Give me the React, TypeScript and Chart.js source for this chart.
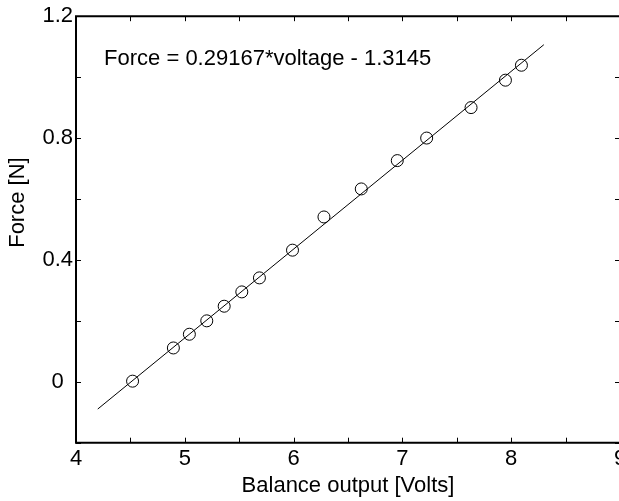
import React, { useEffect, useRef } from "react";
import { Chart, registerables } from "chart.js";

Chart.register(...registerables);

// ---- data ----
const voltage = [4.52, 4.895, 5.042, 5.202, 5.362, 5.524, 5.686, 5.99, 6.279, 6.622, 6.953, 7.223, 7.631, 7.947, 8.094];
const force = [0.002, 0.111, 0.156, 0.2, 0.248, 0.295, 0.341, 0.432, 0.541, 0.633, 0.726, 0.8, 0.9, 0.99, 1.039];
const fitVoltage = [4.2, 8.3];
const fitForce = [-0.0895, 1.1064];

const xMin = 4;
const xMax = 9;
const xStep = 0.5;
const yMin = -0.2;
const yMax = 1.2;
const yStep = 0.2;
const xTickLabels = [4, 5, 6, 7, 8, 9];
const yTickLabels = [0, 0.4, 0.8, 1.2];

const equationText = "Force = 0.29167*voltage - 1.3145";
const equationAnchor = { x: 4.258, y: 1.039 };
const xTitle = "Balance output [Volts]";
const yTitle = "Force [N]";

const FONT = '"Liberation Sans", Arial, Helvetica, sans-serif';

const near = (a: number, b: number) => Math.abs(a - b) < 1e-6;

const framePlugin = {
  id: "frame",
  afterDraw(chart: any) {
    const ctx = chart.ctx;
    const { left, right, top, bottom } = chart.chartArea;
    const xs = chart.scales.x;
    const ys = chart.scales.y;
    ctx.save();
    ctx.strokeStyle = "#000";
    // frame
    ctx.lineWidth = 2;
    ctx.beginPath();
    ctx.moveTo(left, top);
    ctx.lineTo(right, top);
    ctx.lineTo(right, bottom);
    ctx.lineTo(left, bottom);
    ctx.closePath();
    ctx.stroke();
    // inward ticks
    ctx.lineWidth = 1;
    const tl = 5;
    ctx.beginPath();
    xs.ticks.forEach((t: any) => {
      const px = Math.round(xs.getPixelForValue(t.value)) + 0.5;
      ctx.moveTo(px, bottom);
      ctx.lineTo(px, bottom - tl);
      ctx.moveTo(px, top);
      ctx.lineTo(px, top + tl);
    });
    ys.ticks.forEach((t: any) => {
      const py = Math.round(ys.getPixelForValue(t.value)) + 0.5;
      ctx.moveTo(left, py);
      ctx.lineTo(left + tl, py);
      ctx.moveTo(right, py);
      ctx.lineTo(right - tl, py);
    });
    ctx.stroke();
    // equation annotation
    ctx.fillStyle = "#000";
    ctx.font = `22px ${FONT}`;
    ctx.textAlign = "left";
    ctx.textBaseline = "alphabetic";
    ctx.fillText(equationText, xs.getPixelForValue(equationAnchor.x), ys.getPixelForValue(equationAnchor.y));
    // y title
    ctx.translate(24, top + (bottom - top) * 0.437);
    ctx.rotate(-Math.PI / 2);
    ctx.textAlign = "center";
    ctx.fillText(yTitle, 0, 0);
    ctx.restore();
  },
};

export default function App() {
  const ref = useRef<HTMLCanvasElement>(null);
  useEffect(() => {
    if (!ref.current) return;
    const chart = new Chart(ref.current, {
      type: "scatter",
      data: {
        datasets: [
          {
            label: "fit",
            data: fitVoltage.map((v, i) => ({ x: v, y: fitForce[i] })),
            showLine: true,
            borderColor: "#000",
            borderWidth: 1,
            pointRadius: 0,
            fill: false,
          },
          {
            label: "measured",
            data: voltage.map((v, i) => ({ x: v, y: force[i] })),
            showLine: false,
            pointStyle: "circle",
            pointRadius: 6,
            pointBorderWidth: 1,
            pointBorderColor: "#000",
            pointBackgroundColor: "rgba(0,0,0,0)",
          },
        ],
      },
      options: {
        responsive: false,
        animation: false,
        devicePixelRatio: 1,
        layout: { padding: { left: 0, top: 14, right: 20, bottom: 0 } },
        plugins: { legend: { display: false }, tooltip: { enabled: false }, title: { display: false } },
        scales: {
          x: {
            type: "linear",
            min: xMin,
            max: xMax,
            grid: { display: false, drawTicks: false },
            border: { display: false },
            ticks: {
              stepSize: xStep,
              autoSkip: false,
              maxRotation: 0,
              padding: 3,
              color: "#000",
              font: { family: FONT, size: 22 },
              callback: (v: any) => (xTickLabels.some((l) => near(l, Number(v))) ? String(Math.round(Number(v))) : ""),
            },
            title: {
              display: true,
              text: xTitle,
              color: "#000",
              font: { family: FONT, size: 22 },
              padding: { top: 0, bottom: 2 },
            },
            afterFit: (s: any) => {
              s.height = 58.3;
            },
          },
          y: {
            type: "linear",
            min: yMin,
            max: yMax,
            grid: { display: false, drawTicks: false },
            border: { display: false },
            ticks: {
              stepSize: yStep,
              autoSkip: false,
              padding: 3,
              crossAlign: "center",
              color: "#000",
              font: { family: FONT, size: 22 },
              callback: (v: any) => {
                const n = Number(v);
                const hit = yTickLabels.find((l) => near(l, n));
                return hit === undefined ? "" : String(hit);
              },
            },
            afterFit: (s: any) => {
              s.width = 76;
            },
          },
        },
      },
      plugins: [framePlugin],
    });
    return () => chart.destroy();
  }, []);
  return (
    <div style={{ position: "fixed", left: 0, top: 0, width: 619, height: 501, overflow: "hidden", background: "#fff" }}>
      <canvas ref={ref} width={640} height={501} style={{ display: "block", width: 640, height: 501 }} />
    </div>
  );
}
